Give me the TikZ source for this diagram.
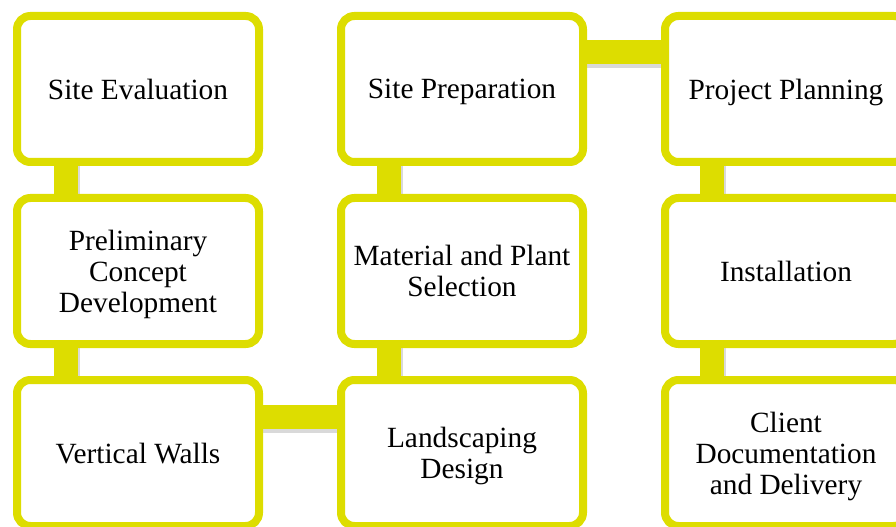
\documentclass[tikz,border=0pt]{standalone}
\usepackage{fontspec}
\setmainfont{Liberation Serif}
\usetikzlibrary{shadows,calc}
\definecolor{ylw}{RGB}{221,221,0}
\tikzset{
  stepbox/.style={draw=ylw, line width=6pt, fill=white, rounded corners=10pt,
    minimum width=181.5pt, minimum height=109.5pt, align=center,
    font=\fontsize{22}{23.3}\selectfont, text=black, inner sep=0pt, text depth=0pt,
    drop shadow={opacity=0.25, shadow xshift=1.2pt, shadow yshift=-2pt, fill=black}},
  bar/.style={draw=ylw, line width=18pt},
  barshadow/.style={draw=black, opacity=0.15, line width=19.5pt}
}
\begin{document}
\begin{tikzpicture}[x=0.75pt,y=-0.75pt]
\useasboundingbox (0,0) rectangle (896,527);
% coordinates for layout
\coordinate (c11) at (138,89);
\coordinate (c21) at (138,271);
\coordinate (c31) at (138,453);
\coordinate (c12) at (462,89);
\coordinate (c22) at (462,271);
\coordinate (c32) at (462,453);
\coordinate (c13) at (786,89);
\coordinate (c23) at (786,271);
\coordinate (c33) at (786,453);
% connectors (behind)
\foreach \a/\b/\s in {c11/c21/-72, c21/c31/-72, c12/c22/-73, c22/c32/-73, c13/c23/-74, c23/c33/-74}{
  \draw[barshadow] ([shift={(\s+1,3)}]\a) -- ([shift={(\s+1,3)}]\b);
  \draw[bar] ([shift={(\s,0)}]\a) -- ([shift={(\s,0)}]\b);
}
\draw[barshadow] ([shift={(1,-34)}]c12) -- ([shift={(1,-34)}]c13);
\draw[bar] ([shift={(0,-37)}]c12) -- ([shift={(0,-37)}]c13);
\draw[barshadow] ([shift={(1,-33)}]c31) -- ([shift={(1,-33)}]c32);
\draw[bar] ([shift={(0,-36)}]c31) -- ([shift={(0,-36)}]c32);
% boxes
\node[stepbox] (se) at (c11) {Site Evaluation};
\node[stepbox] (pc) at (c21) {Preliminary\\Concept\\Development};
\node[stepbox] (vw) at (c31) {Vertical Walls};
\node[stepbox] (sp) at (c12) {Site Preparation};
\node[stepbox] (mp) at (c22) {Material and Plant\\Selection};
\node[stepbox] (ld) at (c32) {Landscaping\\Design};
\node[stepbox] (pp) at (c13) {Project Planning};
\node[stepbox] (in) at (c23) {Installation};
\node[stepbox] (cd) at (c33) {Client\\Documentation\\and Delivery};
\end{tikzpicture}
\end{document}
